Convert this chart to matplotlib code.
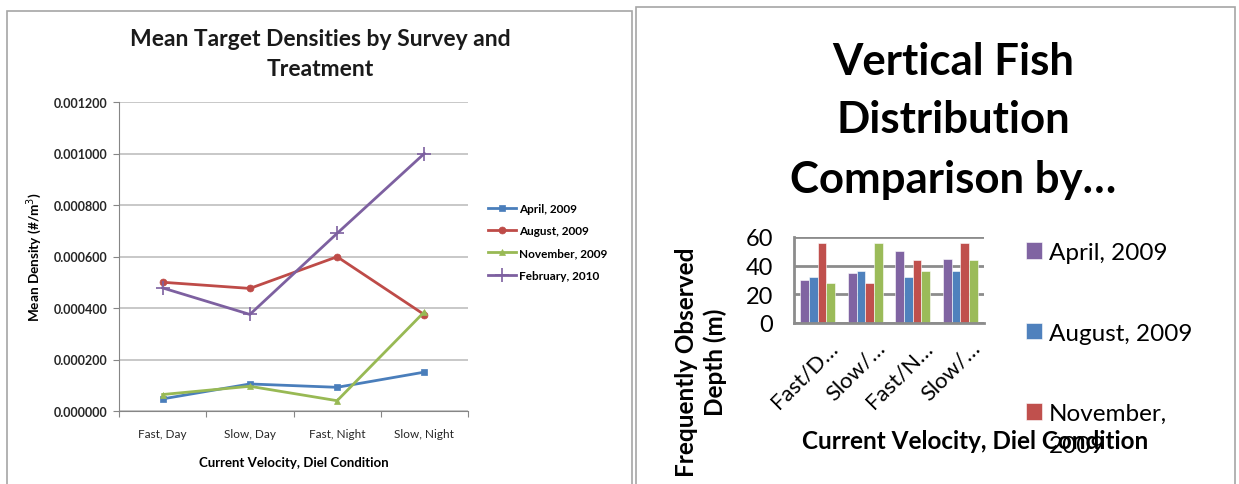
import matplotlib
matplotlib.use("Agg")
import matplotlib.pyplot as plt
from matplotlib.patches import Rectangle
import numpy as np

# ---- data -------------------------------------------------------------
conditions = ["Fast, Day", "Slow, Day", "Fast, Night", "Slow, Night"]
surveys = ["April, 2009", "August, 2009", "November, 2009", "February, 2010"]
april_density = [0.000047, 0.000105, 0.000092, 0.000151]
august_density = [0.000500, 0.000476, 0.000599, 0.000374]
november_density = [0.000064, 0.000096, 0.000040, 0.000385]
february_density = [0.000478, 0.000375, 0.000690, 0.001000]
density_ticks = [0.0, 0.0002, 0.0004, 0.0006, 0.0008, 0.0010, 0.0012]

depth_labels = ["Fast/D…", "Slow/…", "Fast/N…", "Slow/…"]
# the legend column is narrow, so "November, 2009" wraps after the comma
depth_series = ["April, 2009", "August, 2009", "November,", "February, 2010"]
november_wrap = "2009"
april_depth = [30, 35, 50, 45]
august_depth = [32, 36, 32, 36]
november_depth = [56, 28, 44, 56]
february_depth = [28, 56, 36, 44]
depth_ticks = [0, 20, 40, 60]

# ---- layout helpers ---------------------------------------------------
W, H = 1239, 485
fig = plt.figure(figsize=(W / 100, H / 100), dpi=100)
FONT = "Lato"


def box(x0, y0, x1, y1):
    return [x0 / W, 1 - y1 / H, (x1 - x0) / W, (y1 - y0) / H]


def fx(x):
    return x / W


def fy(y):
    return 1 - y / H


# panel frames
fig.patches.append(Rectangle((fx(7), fy(490)), fx(632) - fx(7), fy(12) - fy(490),
                             transform=fig.transFigure, fill=False,
                             edgecolor="#a6a6a6", linewidth=1.2))
fig.patches.append(Rectangle((fx(636), fy(490)), fx(1235) - fx(636), fy(8) - fy(490),
                             transform=fig.transFigure, fill=False,
                             edgecolor="#a6a6a6", linewidth=1.2))

# ---- left: line chart -------------------------------------------------
ax1 = fig.add_axes(box(119, 103, 468, 412))
x = np.arange(len(conditions)) + 0.5
line_styles = [
    (april_density, "#4A7EBB", "s", 5),
    (august_density, "#BE4B48", "o", 5),
    (november_density, "#98B954", "^", 5),
    (february_density, "#7D60A0", "+", 10),
]
for (vals, col, mk, ms), name in zip(line_styles, surveys):
    ax1.plot(x, vals, color=col, marker=mk, markersize=ms, linewidth=2,
             markeredgewidth=1.2 if mk == "+" else 0.5, label=name)

ax1.set_xlim(0, 4)
ax1.set_ylim(0, 0.0012)
ax1.set_yticks(density_ticks)
ax1.set_yticklabels([f"{v:.6f}" for v in density_ticks], fontsize=9,
                    fontweight="bold", family=FONT, color="#262626")
ax1.set_xticks(np.arange(5))
ax1.set_xticklabels([])
ax1.set_xticks(x, minor=True)
ax1.set_xticklabels(conditions, minor=True, fontsize=8.5, family=FONT, color="#262626")
ax1.tick_params(axis="x", which="minor", length=0, pad=12)
ax1.tick_params(axis="x", which="major", length=4, color="#868686", direction="out")
ax1.tick_params(axis="y", length=4, color="#868686", pad=4)
ax1.grid(axis="y", color="#bfbfbf", linewidth=1.2)
ax1.set_axisbelow(True)
for s in ["top", "right"]:
    ax1.spines[s].set_visible(False)
for s in ["left", "bottom"]:
    ax1.spines[s].set_color("#868686")

fig.text(fx(320), fy(40), "Mean Target Densities by Survey and", ha="center",
         va="center", fontsize=16.5, fontweight="bold", family=FONT, color="#1a1a1a")
fig.text(fx(320), fy(70), "Treatment", ha="center", va="center", fontsize=16.5,
         fontweight="bold", family=FONT, color="#1a1a1a")
fig.text(fx(294), fy(463), "Current Velocity, Diel Condition", ha="center",
         va="center", fontsize=9.5, fontweight="bold", family=FONT)
fig.text(fx(34), fy(257), "Mean Density (#/m$^3$)", ha="center", va="center",
         rotation=90, fontsize=9.8, fontweight="bold", family=FONT)

ax1.legend(loc="upper left", bbox_to_anchor=(fx(488), fy(204)),
           bbox_transform=fig.transFigure, frameon=False,
           prop={"family": FONT, "size": 8.5, "weight": "bold"}, handlelength=2.4,
           handletextpad=0.2, labelspacing=0.95, borderaxespad=0, borderpad=0)

# ---- right: bar chart -------------------------------------------------
ax2 = fig.add_axes(box(794, 238, 984, 324))
cats = np.arange(len(depth_labels))
bw = 0.184
bar_sets = [
    (april_depth, "#8064A2"),
    (august_depth, "#4F81BD"),
    (november_depth, "#C0504D"),
    (february_depth, "#9BBB59"),
]
for i, ((vals, col), name) in enumerate(zip(bar_sets, depth_series)):
    ax2.bar(cats + (i - 1.5) * bw, vals, width=bw, color=col, label=name,
            edgecolor="white", linewidth=0.4)

ax2.set_xlim(-0.5, 3.5)
ax2.set_ylim(0, 60)
ax2.set_yticks(depth_ticks)
ax2.set_yticklabels([str(v) for v in depth_ticks], fontsize=17, family=FONT)
ax2.set_xticks(cats + 0.2)
ax2.set_xticklabels(depth_labels, rotation=45, ha="right", rotation_mode="anchor",
                    fontsize=16, family=FONT)
ax2.tick_params(axis="x", length=0, pad=10)
ax2.tick_params(axis="y", length=0, pad=15)
ax2.grid(axis="y", color="#8c8c8c", linewidth=2)
ax2.set_axisbelow(True)
for s in ["top", "right"]:
    ax2.spines[s].set_visible(False)
for s in ["left", "bottom"]:
    ax2.spines[s].set_color("#8c8c8c")
    ax2.spines[s].set_linewidth(2)

fig.text(fx(953), fy(62), "Vertical Fish", ha="center", va="center", fontsize=31.5,
         fontweight="bold", family=FONT)
fig.text(fx(953), fy(120), "Distribution", ha="center", va="center", fontsize=31.5,
         fontweight="bold", family=FONT)
fig.text(fx(953), fy(180), "Comparison by…", ha="center", va="center", fontsize=31.5,
         fontweight="bold", family=FONT)
fig.text(fx(975), fy(442), "Current Velocity, Diel Condition", ha="center",
         va="center", fontsize=17.5, fontweight="bold", family=FONT)
fig.text(fx(701), fy(362), "Frequently Observed\nDepth (m)", ha="center",
         va="center", rotation=90, multialignment="center", fontsize=17.5,
         fontweight="bold", family=FONT, linespacing=1.25)

ax2.legend(loc="upper left", bbox_to_anchor=(fx(1026), fy(243)),
           bbox_transform=fig.transFigure, frameon=False,
           prop={"family": FONT, "size": 17.5}, handlelength=0.65, handleheight=0.65,
           handletextpad=0.3, labelspacing=2.45, borderaxespad=0, borderpad=0)
fig.text(fx(1049), fy(447), november_wrap, ha="left", va="center", fontsize=17.5,
         family=FONT)

fig.savefig("out.png", dpi=100)
